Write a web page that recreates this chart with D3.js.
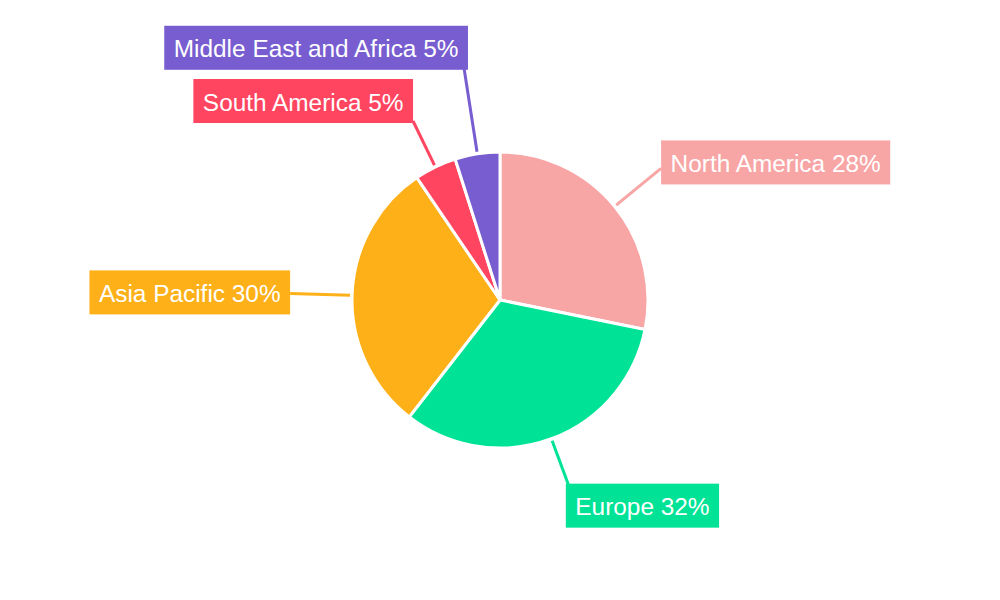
<!DOCTYPE html>
<html>
<head>
<meta charset="utf-8">
<script src="https://cdn.jsdelivr.net/npm/d3@7"></script>
<style>
  html, body { margin: 0; padding: 0; background: #fff; }
  svg { display: block; font-family: "Liberation Sans", Arial, sans-serif; }
</style>
</head>
<body>
<svg id="chart" width="1000" height="600"></svg>
<script>
// ---- data ----
const categories = ["North America", "Europe", "Asia Pacific", "South America", "Middle East and Africa"];
const values = [28.2, 32.3, 30.0, 4.6, 4.9];
const labelPercents = ["28%", "32%", "30%", "5%", "5%"];
const colors = ["#f8a5a6", "#00e396", "#feb019", "#ff4560", "#775dd0"];

// ---- layout ----
const width = 1000, height = 600;
const cx = 500, cy = 300, radius = 148;
const leaderStart = 150;
const leaderEnd = [208, 198, 210, 199, 235];
const boxAlign = ["start", "start", "end", "end", "end"];
const boxDx = [0, -3, 0, 0, 4];
const boxDy = [-28, -2, -23, -42, -42];
const boxH = 44, padX = 9.5;

const svg = d3.select("#chart");
const g = svg.append("g").attr("transform", `translate(${cx},${cy})`);

const pie = d3.pie().sort(null).value(d => d)(values);
const arc = d3.arc().innerRadius(0).outerRadius(radius);

g.selectAll("path.slice")
  .data(pie)
  .join("path")
  .attr("class", "slice")
  .attr("d", arc)
  .attr("fill", (d, i) => colors[i])
  .attr("stroke", "#fff")
  .attr("stroke-width", 3)
  .attr("stroke-linejoin", "round");

function polar(angle, r) {
  return [r * Math.sin(angle), -r * Math.cos(angle)];
}

pie.forEach((d, i) => {
  const mid = (d.startAngle + d.endAngle) / 2;
  const [x1, y1] = polar(mid, leaderStart);
  const [x2, y2] = polar(mid, leaderEnd[i]);
  g.append("line")
    .attr("x1", x1).attr("y1", y1)
    .attr("x2", x2).attr("y2", y2)
    .attr("stroke", colors[i])
    .attr("stroke-width", 3);

  const lg = g.append("g");
  const rect = lg.append("rect").attr("fill", colors[i]);
  const text = lg.append("text")
    .attr("fill", "#fff")
    .attr("font-size", 24.4)
    .attr("dominant-baseline", "central")
    .text(categories[i] + " " + labelPercents[i]);
  const w = text.node().getComputedTextLength() + padX * 2;
  const bx = boxAlign[i] === "start" ? x2 + boxDx[i] : x2 - w + boxDx[i];
  const by = y2 + boxDy[i];
  rect.attr("x", bx).attr("y", by).attr("width", w).attr("height", boxH);
  text.attr("x", bx + padX).attr("y", by + boxH / 2 + 1);
});
</script>
</body>
</html>
